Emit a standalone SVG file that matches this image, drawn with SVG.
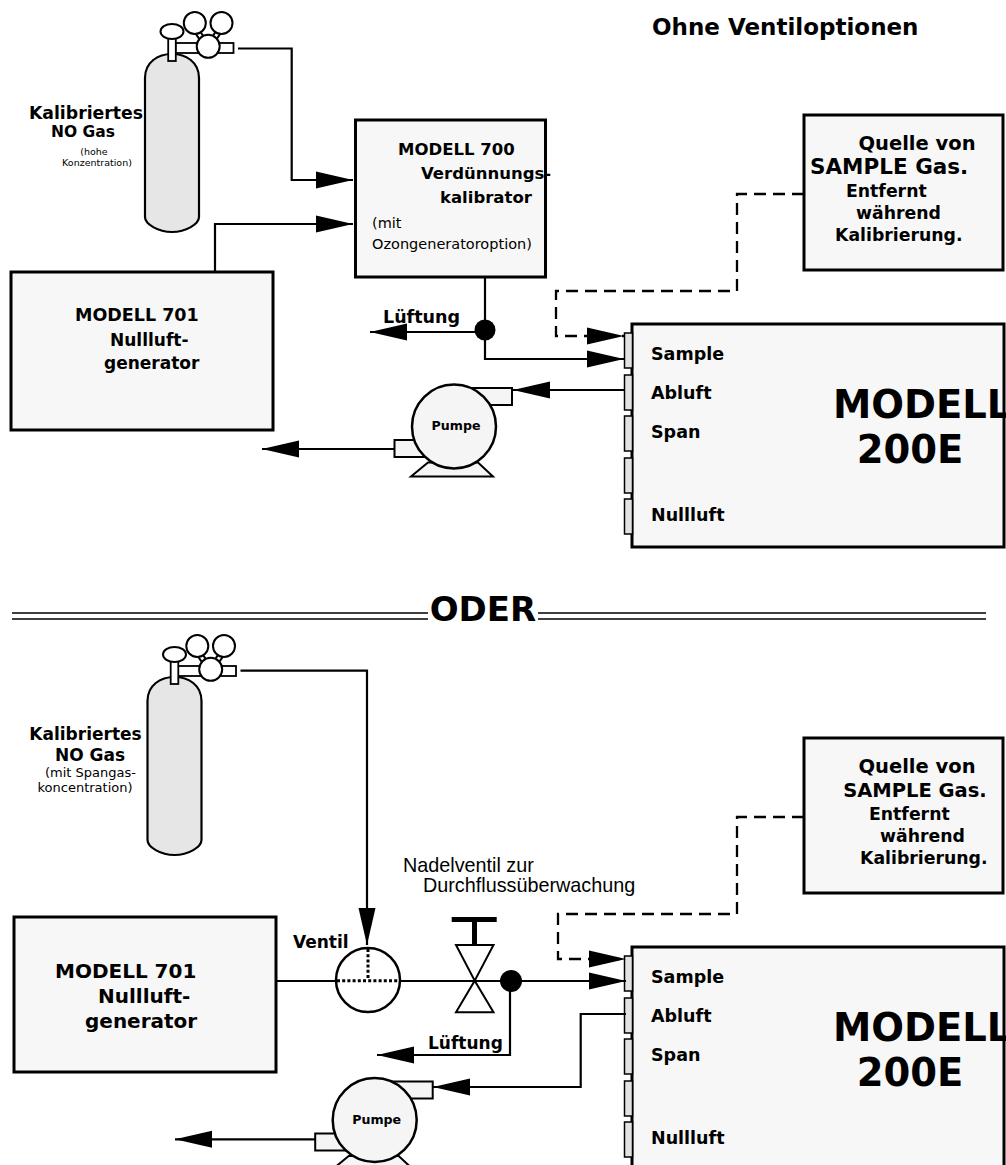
<svg xmlns="http://www.w3.org/2000/svg" xmlns:xlink="http://www.w3.org/1999/xlink" width="1006" height="1165" viewBox="0 0 1006 1165">
  <style>
    .box { fill: #f7f7f7; stroke: #000; stroke-width: 3; }
    .ln { fill: none; stroke: #000; stroke-width: 2.2; }
    .dash { fill: none; stroke: #000; stroke-width: 2.3; stroke-dasharray: 12 7; }
    .arr { marker-end: url(#head); }
    .port { fill: #e2e2e2; stroke: #000; stroke-width: 1.5; }
    .b { font-family: "DejaVu Sans", Verdana, sans-serif; font-weight: bold; fill: #000; }
    .r { font-family: "DejaVu Sans", Verdana, sans-serif; fill: #000; }
    .a { font-family: "Liberation Sans", Arial, sans-serif; fill: #000; }
  </style>
  <defs>
    <marker id="head" markerUnits="userSpaceOnUse" viewBox="-38 -10 40 20" refX="0" refY="0" markerWidth="40" markerHeight="20" orient="auto">
      <path d="M0,0 L-37,-8.5 L-37,8.5 Z" fill="#000"/>
    </marker>
    <!-- gas cylinder with regulator; origin at top of dome -->
    <g id="cylinder">
      <path d="M-27,163 L-27,24 C-27,8 -14,0 0,0 C14,0 27,8 27,24 L27,163 C27,170 14,178 0,178 C-14,178 -27,170 -27,163 Z" fill="#e6e6e6" stroke="#000" stroke-width="2.2"/>
      <line x1="25.5" y1="-22" x2="31" y2="-14" stroke="#000" stroke-width="7"/>
      <line x1="25.5" y1="-22" x2="31" y2="-14" stroke="#fff" stroke-width="3"/>
      <line x1="46.5" y1="-22" x2="41" y2="-14" stroke="#000" stroke-width="7"/>
      <line x1="46.5" y1="-22" x2="41" y2="-14" stroke="#fff" stroke-width="3"/>
      <rect x="3.5" y="-11" width="58" height="10" fill="#fff" stroke="#000" stroke-width="1.8"/>
      <rect x="-3.8" y="-17" width="7.6" height="24" fill="#fff" stroke="#000" stroke-width="1.8"/>
      <ellipse cx="0" cy="-22.5" rx="11.5" ry="7.5" fill="#fff" stroke="#000" stroke-width="2"/>
      <circle cx="22.8" cy="-31" r="11" fill="#fff" stroke="#000" stroke-width="2"/>
      <circle cx="49.5" cy="-31" r="11" fill="#fff" stroke="#000" stroke-width="2"/>
      <circle cx="36.2" cy="-7.7" r="11.5" fill="#fff" stroke="#000" stroke-width="2"/>
    </g>
    <!-- pump symbol; origin at circle centre -->
    <g id="pump">
      <path d="M-26,36 L24,36 L39,50 L-43,50 Z" fill="#f5f5f5" stroke="#000" stroke-width="2"/>
      <rect x="-15" y="-38.5" width="73" height="17" fill="#f5f5f5" stroke="#000" stroke-width="2"/>
      <rect x="-59.5" y="13.5" width="40" height="17" fill="#f5f5f5" stroke="#000" stroke-width="2"/>
      <circle cx="0" cy="0" r="42" fill="#f5f5f5" stroke="#000" stroke-width="2.5"/>
      <text class="b" x="2" y="3.5" font-size="12.6" text-anchor="middle">Pumpe</text>
    </g>
    <!-- analyser with its inlet ports -->
    <g id="analyzer">
      <rect class="box" x="632" y="324" width="372" height="223"/>
      <rect class="port" x="624.5" y="333" width="8" height="35"/>
      <rect class="port" x="624.5" y="375" width="8" height="35"/>
      <rect class="port" x="624.5" y="416" width="8" height="35"/>
      <rect class="port" x="624.5" y="458" width="8" height="35"/>
      <rect class="port" x="624.5" y="499" width="8" height="35"/>
      <text class="b" x="651" y="359.5" font-size="17.5">Sample</text>
      <text class="b" x="651" y="398.5" font-size="17.5">Abluft</text>
      <text class="b" x="651" y="437.5" font-size="17.5">Span</text>
      <text class="b" x="651" y="521" font-size="17.5">Nullluft</text>
      <text class="b" x="833" y="417.7" font-size="38.5">MODELL</text>
      <text class="b" x="910" y="462.7" font-size="38.5" text-anchor="middle">200E</text>
    </g>
  </defs>

  <!-- ===== upper arrangement: without valve options ===== -->
  <text class="b" x="652" y="35" font-size="23">Ohne Ventiloptionen</text>

  <g id="cylinder-top">
    <use xlink:href="#cylinder" x="172" y="54"/>
    <text class="b" x="86" y="119" font-size="17.3" text-anchor="middle">Kalibriertes</text>
    <text class="b" x="83" y="137" font-size="15.5" text-anchor="middle">NO Gas</text>
    <text class="r" x="94" y="155" font-size="9.5" text-anchor="middle">(hohe</text>
    <text class="r" x="97" y="166" font-size="9.5" text-anchor="middle">Konzentration)</text>
  </g>

  <g id="calibrator-700">
    <rect class="box" x="355.5" y="120" width="190" height="157"/>
    <text class="b" x="398" y="155" font-size="16.5">MODELL 700</text>
    <text class="b" x="421" y="179" font-size="16.5">Verdünnungs-</text>
    <text class="b" x="440" y="203" font-size="16.5">kalibrator</text>
    <text class="r" x="372" y="228" font-size="14.5">(mit</text>
    <text class="r" x="372" y="249" font-size="14.5">Ozongeneratoroption)</text>
  </g>

  <g id="zero-air-top">
    <rect class="box" x="11" y="272" width="262" height="158"/>
    <text class="b" x="75" y="321" font-size="17.5">MODELL 701</text>
    <text class="b" x="110" y="346" font-size="17">Nullluft-</text>
    <text class="b" x="104" y="369" font-size="17">generator</text>
  </g>

  <g id="source-top">
    <rect class="box" x="804" y="115" width="199" height="155"/>
    <text class="b" x="917" y="149.7" font-size="19.5" text-anchor="middle">Quelle von</text>
    <text class="b" x="810" y="174.3" font-size="21.5">SAMPLE Gas.</text>
    <text class="b" x="846" y="197" font-size="17.3">Entfernt</text>
    <text class="b" x="856" y="218.7" font-size="17.3">während</text>
    <text class="b" x="835" y="241" font-size="17.3">Kalibrierung.</text>
  </g>

  <g id="analyzer-top"><use xlink:href="#analyzer"/></g>
  <g id="pump-top"><use xlink:href="#pump" x="454" y="426.5"/></g>

  <g id="vent-junction-top">
    <circle cx="485" cy="330" r="10.5" fill="#000"/>
    <text class="b" x="383" y="323" font-size="17.5">Lüftung</text>
  </g>

  <g id="connectors-top">
    <path class="ln arr" d="M238,48.5 H291.7 V180 H353"/>
    <path class="ln arr" d="M215,272 V224 H353"/>
    <path class="ln" d="M485,277 V330"/>
    <path class="ln arr" d="M485,332 H370"/>
    <path class="ln arr" d="M485,330 V359 H624"/>
    <path class="dash arr" d="M804,194 H737 V291 H556 V336 H624"/>
    <path class="ln arr" d="M624,390 H513"/>
    <path class="ln arr" d="M394,449 H262"/>
  </g>

  <!-- ===== separator ===== -->
  <g id="separator">
    <path d="M12,613 H428 M12,619 H428 M538,613 H986 M538,619 H986" stroke="#000" stroke-width="1.6" fill="none"/>
    <text class="b" x="483" y="621" font-size="34" text-anchor="middle">ODER</text>
  </g>

  <!-- ===== lower arrangement ===== -->
  <g id="cylinder-bottom">
    <use xlink:href="#cylinder" x="174.5" y="677"/>
    <text class="b" x="85.5" y="740" font-size="17" text-anchor="middle">Kalibriertes</text>
    <text class="b" x="90" y="760.7" font-size="17" text-anchor="middle">NO Gas</text>
    <text class="r" x="90.5" y="777" font-size="13" text-anchor="middle">(mit Spangas-</text>
    <text class="r" x="85" y="792" font-size="13" text-anchor="middle">koncentration)</text>
  </g>

  <g id="zero-air-bottom">
    <rect class="box" x="14" y="917" width="262" height="155"/>
    <text class="b" x="55" y="977.7" font-size="20">MODELL 701</text>
    <text class="b" x="98" y="1003" font-size="20">Nullluft-</text>
    <text class="b" x="85" y="1028" font-size="20">generator</text>
  </g>

  <g id="valve">
    <circle cx="368" cy="980" r="32" fill="#fff" stroke="#000" stroke-width="2.5"/>
    <path d="M368,949 V980 M337,980.7 H399" stroke="#000" stroke-width="3" stroke-dasharray="3 2.2" fill="none"/>
    <text class="b" x="293" y="948" font-size="17">Ventil</text>
  </g>

  <g id="needle-valve">
    <rect x="451.7" y="917" width="45" height="5" fill="#000"/>
    <rect x="472" y="922" width="5" height="23" fill="#000"/>
    <path d="M456,945 H493.5 L474.7,980.7 Z M456,1012.3 H493.5 L474.7,980.7 Z" fill="#fff" stroke="#000" stroke-width="2"/>
    <text class="a" x="403" y="871.7" font-size="19.8">Nadelventil zur</text>
    <text class="a" x="423" y="891.7" font-size="19.8">Durchflussüberwachung</text>
  </g>

  <g id="source-bottom">
    <rect class="box" x="804" y="738" width="199" height="155"/>
    <text class="b" x="917" y="772.7" font-size="19.5" text-anchor="middle">Quelle von</text>
    <text class="b" x="915" y="797.3" font-size="19.5" text-anchor="middle">SAMPLE Gas.</text>
    <text class="b" x="869" y="820" font-size="17.3">Entfernt</text>
    <text class="b" x="880" y="841.7" font-size="17.3">während</text>
    <text class="b" x="860" y="864" font-size="17.3">Kalibrierung.</text>
  </g>

  <g id="analyzer-bottom"><use xlink:href="#analyzer" y="623"/></g>
  <g id="pump-bottom"><use xlink:href="#pump" x="374.7" y="1120"/></g>

  <g id="vent-junction-bottom">
    <circle cx="511" cy="981" r="11" fill="#000"/>
    <text class="b" x="428" y="1049" font-size="17">Lüftung</text>
  </g>

  <g id="connectors-bottom">
    <path class="ln arr" d="M240.5,670.7 H367 V945"/>
    <path class="ln" d="M276,981 H336"/>
    <path class="ln arr" d="M400,981 H626"/>
    <path class="ln arr" d="M510,981 V1055 H377"/>
    <path class="dash arr" d="M804,817 H737 V914 H558 V959 H626"/>
    <path class="ln arr" d="M626,1014 H580.7 V1087 H433"/>
    <path class="ln arr" d="M316,1139.3 H175"/>
  </g>
</svg>
